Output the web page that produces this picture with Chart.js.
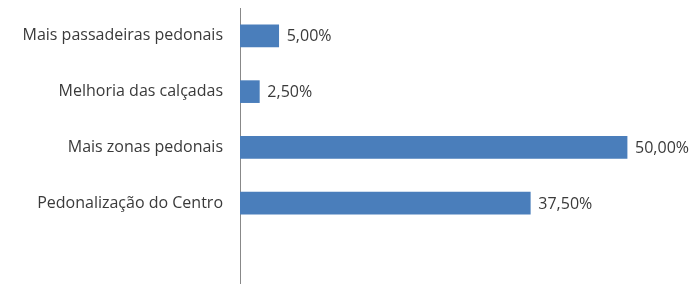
<!DOCTYPE html>
<html>
<head>
<meta charset="utf-8">
<script src="https://cdn.jsdelivr.net/npm/chart.js@4"></script>
<style>
  html, body { margin:0; padding:0; background:#fff; overflow:hidden; }
  #wrap { width:698px; height:284px; position:relative; }
</style>
</head>
<body>
<div id="wrap"><canvas id="chart"></canvas></div>
<script>
// Survey answers (share of respondents, %)
const LABELS = ['Mais passadeiras pedonais', 'Melhoria das calçadas', 'Mais zonas pedonais', 'Pedonalização do Centro'];
const VALUES = [5.0, 2.5, 50.0, 37.5];

const BAR_COLOR = '#4A7EBB';
const TEXT_COLOR = '#3A3A3A';
const FONT = "'Open Sans', sans-serif";

// value labels to the right of each bar ("5,00%")
const valueLabels = {
  id: 'valueLabels',
  afterDatasetsDraw(chart) {
    const ctx = chart.ctx;
    const meta = chart.getDatasetMeta(0);
    ctx.save();
    ctx.font = '16px ' + FONT;
    ctx.fillStyle = TEXT_COLOR;
    ctx.textAlign = 'left';
    ctx.textBaseline = 'middle';
    meta.data.forEach((bar, i) => {
      const txt = VALUES[i].toFixed(2).replace('.', ',') + '%';
      ctx.fillText(txt, bar.x + 8, bar.y + 1);
    });
    ctx.restore();
  }
};

new Chart(document.getElementById('chart'), {
  type: 'bar',
  data: {
    datasets: [{
      data: VALUES.map((v, i) => ({ x: v, y: i })),
      backgroundColor: BAR_COLOR,
      barThickness: 22
    }]
  },
  options: {
    indexAxis: 'y',
    responsive: true,
    maintainAspectRatio: false,
    animation: false,
    layout: { padding: { top: 8, right: 9, bottom: 0, left: 0 } },
    plugins: { legend: { display: false }, tooltip: { enabled: false } },
    scales: {
      x: { type: 'linear', display: false, min: 0, max: 58 },
      y: {
        type: 'linear',
        reverse: true,
        offset: false,
        min: -0.5,
        max: 4.45,
        afterFit: s => { s.width = 240; s.paddingTop = 0; s.paddingBottom = 0; },
        afterBuildTicks: s => { s.ticks = LABELS.map((_, i) => ({ value: i })); },
        grid: { display: false, offset: false },
        border: { display: true, color: '#888888', width: 1 },
        ticks: {
          padding: 9,
          color: TEXT_COLOR,
          font: { family: FONT, size: 16 },
          callback: v => LABELS[v] ?? ''
        }
      }
    }
  },
  plugins: [valueLabels]
});
</script>
</body>
</html>
